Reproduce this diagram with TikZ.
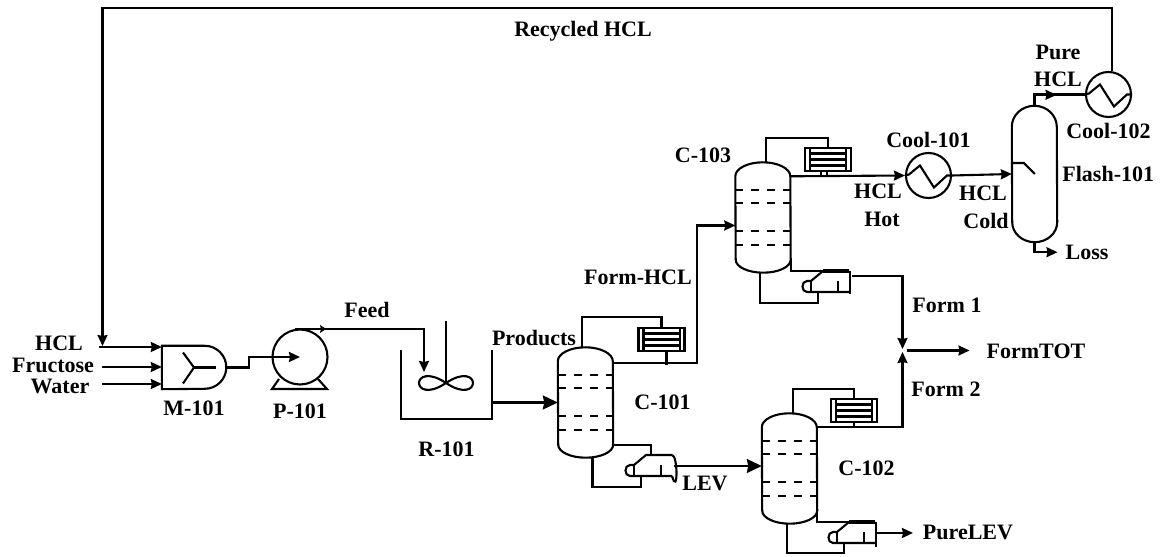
\documentclass[tikz,border=0pt]{standalone}
\usepackage{fontspec}
\setmainfont{Liberation Serif}
\usepackage{tikz}
\usetikzlibrary{arrows.meta, positioning}

%% Equipment drawn around a named, invisible body node
\newcommand{\tower}[3]{%
    \node (#1) [towerbody] at (#2,#3) {};
    \draw [line] ([yshift=-14]#1.north west) arc[start angle=180, end angle=0, x radius=27.5, y radius=14]
        -- ([yshift=13]#1.south east) arc[start angle=0, end angle=-180, x radius=27.5, y radius=13] -- cycle;
    \draw [tray] ([yshift=-28]#1.north west) -- ([yshift=-28]#1.north east);
    \draw [tray] ([yshift=-41]#1.north west) -- ([yshift=-41]#1.north east);
    \draw [tray] ([yshift=-69]#1.north west) -- ([yshift=-69]#1.north east);
    \draw [tray] ([yshift=-83]#1.north west) -- ([yshift=-83]#1.north east);
}
\newcommand{\condenser}[3]{%
    \node (#1) [condbox] at (#2,#3) {};
    \draw [line] ([xshift=6]#1.north west) -- ([xshift=6]#1.south west);
    \draw [line] ([xshift=-6]#1.north east) -- ([xshift=-6]#1.south east);
    \draw [line] ([xshift=6,yshift=6]#1.west) -- ([xshift=-6,yshift=6]#1.east);
    \draw [line] ([xshift=6]#1.west) -- ([xshift=-6]#1.east);
    \draw [line] ([xshift=6,yshift=-6]#1.west) -- ([xshift=-6,yshift=-6]#1.east);
}
\newcommand{\reboiler}[3]{%
    \coordinate (#1) at (#2,#3);
    \coordinate (#1-in) at ([shift={(-31,-21)}]#1);
    \coordinate (#1-out) at ([shift={(2,-11)}]#1);
    \draw [line] (#1) -- ([xshift=-26]#1) -- ([shift={(-38,-10)}]#1) -- ([shift={(-42,-10)}]#1)
        .. controls ([shift={(-48,-10)}]#1) and ([shift={(-48,-21)}]#1) .. ([shift={(-42,-21)}]#1)
        -- ([shift={(0,-21)}]#1);
    \draw [line] ([shift={(-38,-10)}]#1) -- ([shift={(-38,-21)}]#1);
    \draw [line] ([shift={(-11,-10)}]#1) -- ([shift={(-11,-21)}]#1);
}
\newcommand{\cooler}[3]{%
    \node (#1) [coolbox] at (#2,#3) {};
    \draw [line] (#1.west) -- ([shift={(4,1)}]#1.west) -- ([shift={(15,10)}]#1.west)
        -- ([shift={(29,-12)}]#1.west) -- ([shift={(42,0)}]#1.west) -- (#1.east);
}

\begin{document}
\begin{tikzpicture}[
    x=1pt, y=1pt,
    %% ── Line styles ───────────────────────────────────────────
    line/.style={line width=2.1pt, line join=miter},
    tray/.style={line width=2pt, dash pattern=on 8pt off 8pt},
    arrow/.style={line, -{Stealth[length=11pt, width=10pt, inset=1pt]}},
    bigarrow/.style={line, -{Stealth[length=15pt, width=14pt, inset=1.5pt]}},
    %% ── Equipment styles ──────────────────────────────────────
    towerbody/.style={minimum width=55pt, minimum height=110pt, inner sep=0pt},
    condbox/.style={rectangle, draw, line width=2.1pt, minimum width=46pt, minimum height=23pt, inner sep=0pt},
    coolbox/.style={circle, draw, line width=2.1pt, minimum size=45pt, inner sep=0pt},
    mixerbody/.style={minimum width=64pt, minimum height=43pt, inner sep=0pt},
    pumpbody/.style={circle, draw, line width=2.1pt, minimum size=55pt, inner sep=0pt},
    reactorbody/.style={minimum width=91pt, minimum height=69pt, inner sep=0pt},
    flashbody/.style={minimum width=45pt, minimum height=136pt, inner sep=0pt},
    %% ── Text style ────────────────────────────────────────────
    tag/.style={font=\fontsize{22}{24}\selectfont\bfseries, inner sep=2pt}
]
\useasboundingbox (0,0) rectangle (1163,557);

%% ── Mixer, pump, reactor ───────────────────────────────────────
\node (m101) [mixerbody] at (194,189.5) {};
\draw [line] (m101.north west) -- ++(43,0) arc[start angle=90, end angle=-90, radius=21.5] -- (m101.south west) -- cycle;
\draw [line] (m101.center) -- ++(-11,15);
\draw [line] (m101.center) -- ++(-11,-16);
\draw [line] (m101.center) -- ++(22,0);

\node (p101) [pumpbody] at (300,200) {};
\draw [line] (279,178) -- (272,168) -- (327,168) -- (318,178);

\node (r101) [reactorbody] at (446.5,172.5) {};
\draw [line] (r101.north west) -- (r101.south west) -- (r101.south east) -- (r101.north east);
\coordinate (blade) at (446,174);
\draw [line] (blade) -- ++(0,62);
\draw [line] (blade) .. controls +(-36,24) and +(-36,-24) .. (blade);
\draw [line] (blade) .. controls +(36,24) and +(36,-24) .. (blade);

%% ── Columns with condenser and reboiler ───────────────────────
\tower{c101}{585.5}{154.5}
\tower{c102}{789.5}{88.5}
\tower{c103}{763}{339.5}
\condenser{cond101}{661.5}{217.5}
\condenser{cond102}{854}{146.5}
\condenser{cond103}{828}{397.5}
\reboiler{reb101}{672}{102}
\reboiler{reb102}{875}{35}
\reboiler{reb103}{849}{286}

%% Reboiler ends
\draw [line] (reb101) .. controls +(6,0) and +(6,-21) .. ([yshift=-21]reb101);
\draw [line] ([xshift=1]reb102) -- ++(0,-25);
\draw [line] ([xshift=1]reb103) -- ++(0,-23);
\draw [line, line width=3.2pt] ([xshift=-26]reb102) -- ++(26,0);
\draw [line, line width=3.2pt] ([xshift=-26]reb103) -- ++(26,0);

%% ── Flash and coolers ─────────────────────────────────────────
\node (flash101) [flashbody] at (1034.5,383) {};
\draw [line] ([yshift=-21]flash101.north west) arc[start angle=180, end angle=0, x radius=22.5, y radius=21]
    -- ([yshift=20]flash101.south east) arc[start angle=0, end angle=-180, x radius=22.5, y radius=20] -- cycle;
\draw [line] ([yshift=11]flash101.west) -- ++(12,0) -- ++(11,-11);
\cooler{cool101}{928.5}{381.5}
\cooler{cool102}{1108.5}{462.5}

%% ── Labels ─────────────────────────────────────────────────────
\node (hcl)     [tag] at (59,214)   {HCL};
\node (fru)     [tag] at (53,192)   {Fructose};
\node (wat)     [tag] at (60,171)   {Water};
\node (feed)    [tag] at (367,247)  {Feed};
\node (prod)    [tag] at (534,219)  {Products};
\node (formhcl) [tag] at (638,280)  {Form-HCL};
\node (lev)     [tag] at (705,74)   {LEV};
\node (hclhot)  [tag] at (878,366)  {HCL};
\node (hot)     [tag] at (882,338)  {Hot};
\node (hclcold) [tag] at (983,364)  {HCL};
\node (cold)    [tag] at (986,336)  {Cold};
\node (pure)    [tag] at (1058,505) {Pure};
\node (purehcl) [tag] at (1058,478) {HCL};
\node (recyc)   [tag] at (583,526)  {Recycled HCL};
\node (loss)    [tag] at (1087,305) {Loss};
\node (form1)   [tag] at (947,252)  {Form 1};
\node (form2)   [tag] at (946,168)  {Form 2};
\node (formtot) [tag] at (1036,206) {FormTOT};
\node (purelev) [tag] at (968,25)   {PureLEV};
\node (tm101)   [tag, below=9pt of m101]      {M-101};
\node (tp101)   [tag, below=16pt of p101]     {P-101};
\node (tr101)   [tag, below=20pt of r101]     {R-101};
\node (tc101)   [tag, right=19pt of c101]     {C-101};
\node (tc102)   [tag, right=19pt of c102]     {C-102};
\node (tc103)   [tag] at (703,402)            {C-103};
\node (tcool1)  [tag, above=2pt of cool101]   {Cool-101};
\node (tcool2)  [tag, below=3pt of cool102]   {Cool-102};
\node (tflash)  [tag, right=3pt of flash101]  {Flash-101};

%% ── Free ends of the streams ───────────────────────────────────
\coordinate (hclin)   at (99,210);
\coordinate (fruin)   at (102,190);
\coordinate (watin)   at (102,173);
\coordinate (back)    at (102.5,211);
\coordinate (pumpout) at (295,228);
\coordinate (feedin)  at (424,185);
\coordinate (formmix) at (902.5,206.5);

%% ── Flow arrows ────────────────────────────────────────────────
\draw [arrow] (hclin) -- (m101.west |- hclin);
\draw [arrow] (fruin) -- (m101.west |- fruin);
\draw [arrow] (watin) -- (m101.west |- watin);
\draw [arrow] (m101.east) -- ++(23,0) |- (p101.center);
%% Feed line with its arrow on the way
\draw [line, -{Stealth[length=6pt, width=8pt, inset=1pt]}] (pumpout) -- ++(31,0);
\draw [arrow] (pumpout) -| (feedin);
\draw [bigarrow] (r101.east |- c101.west) -- (c101.west);
%% C-101 streams
\draw [line] ([xshift=-3.5]c101.north) -- ++(0,30) -| (cond101.north);
\draw [arrow] ([yshift=-16]c101.north east) -- ++(84,0) |- ([yshift=-8]c103.west);
\draw [line] ([xshift=5]cond101.south) -- ++(0,-13);
\draw [line] ([yshift=13]c101.south east) -| ([xshift=-21]reb101);
\draw [line] ([xshift=7]c101.south) -- ++(0,-29) -| (reb101-in);
\draw [bigarrow] (reb101-out) -- (reb101-out -| c102.west);
%% C-102 streams
\draw [line] ([xshift=3.5]c102.north) -- ++(0,24) -| (cond102.north);
\draw [arrow] ([yshift=-14]c102.north east) -| ([yshift=-1.5]formmix);
\draw [line] (cond102.south) -- ++(0,-5);
\draw [line] ([yshift=13]c102.south east) |- (reb102);
\draw [line] ([xshift=-2.5]c102.south) -- ++(0,-29) -| (reb102-in);
\draw [arrow] (reb102-out) -- ++(36,0);
%% C-103 streams
\draw [line] ([xshift=3]c103.north) -- ++(0,24) -| (cond103.north);
\draw [arrow] ([yshift=-14]c103.north east) -- (cool101.west);
\draw [line] ([xshift=-7]cond103.south) -- ++(0,-5);
\draw [line] ([xshift=-1]cond103.south) -- ++(0,-5);
\draw [line] ([yshift=13]c103.south east) |- (reb103);
\draw [line] ([xshift=-3]c103.south) -- ++(0,-30) -| (reb103-in);
\draw [arrow] ([shift={(3,-5)}]reb103) -| ([yshift=1.5]formmix);
\draw [arrow] ([xshift=4]formmix) -- ++(63,0);
%% Flash and recycle
\draw [arrow] (cool101.east) -- (flash101.west);
\draw [arrow] (flash101.north) -- ++(0,11) -- ++(22,0);
\draw [line] ([yshift=11]flash101.north) -- (flash101.north |- cool102.west) -- (cool102.west);
\draw [arrow] (flash101.south) -- ++(0,-10) -- ++(23,0);
\draw [arrow] ([xshift=3.5]cool102.north) -- ++(0,62.5) -| (back);

\end{tikzpicture}
\end{document}
